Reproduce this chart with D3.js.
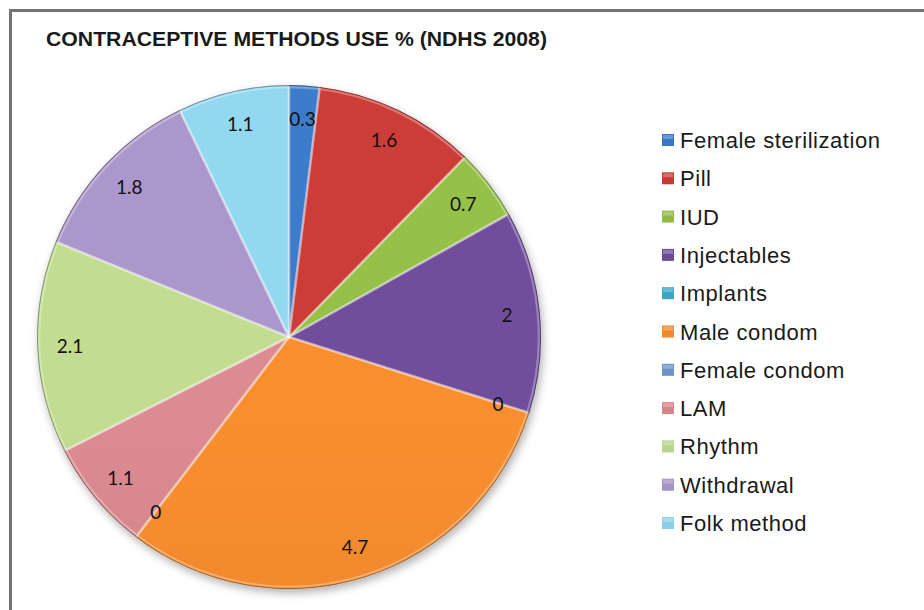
<!DOCTYPE html>
<html>
<head>
<meta charset="utf-8">
<script src="https://cdn.jsdelivr.net/npm/d3@7/dist/d3.min.js"></script>
<style>
  html, body { margin: 0; padding: 0; background: #fff; }
  svg { display: block; }
</style>
</head>
<body>
<svg id="chart" width="924" height="610"></svg>
<script>
const title = "CONTRACEPTIVE METHODS USE % (NDHS 2008)";
const categories = ["Female sterilization", "Pill", "IUD", "Injectables", "Implants",
  "Male condom", "Female condom", "LAM", "Rhythm", "Withdrawal", "Folk method"];
const values = [0.3, 1.6, 0.7, 2, 0, 4.7, 0, 1.1, 2.1, 1.8, 1.1];
const colors = ["#3a76c2", "#c43a36", "#90b946", "#6c4b96", "#3ba6c2",
  "#ef882c", "#6b93c8", "#d3858a", "#bad48c", "#a591c3", "#8ccfe5"];

const svg = d3.select("#chart");

// frame
svg.append("rect").attr("x", 10.5).attr("y", 10.5).attr("width", 1000).attr("height", 1000)
  .attr("fill", "none").attr("stroke", "#747474").attr("stroke-width", 3);

svg.append("text").attr("x", 46).attr("y", 46)
  .attr("font-family", "Liberation Sans Narrow, Liberation Sans, Arial, sans-serif")
  .attr("font-weight", "bold").attr("font-size", 21)
  .attr("textLength", 501).attr("lengthAdjust", "spacingAndGlyphs")
  .attr("fill", "#1a1a1a").text(title);

const cx = 289, cy = 337, r = 252;
const defs = svg.append("defs");
const f = defs.append("filter").attr("id", "shadow").attr("x", "-10%").attr("y", "-10%")
  .attr("width", "130%").attr("height", "130%");
f.append("feDropShadow").attr("dx", 2).attr("dy", 4).attr("stdDeviation", 4)
  .attr("flood-color", "#000").attr("flood-opacity", 0.3);

colors.forEach((c, i) => {
  const g = defs.append("linearGradient").attr("id", "g" + i)
    .attr("gradientUnits", "userSpaceOnUse")
    .attr("x1", 0).attr("y1", cy - r).attr("x2", 0).attr("y2", cy + r);
  g.append("stop").attr("offset", "0%").attr("stop-color", d3.color(c).brighter(0.12));
  g.append("stop").attr("offset", "100%").attr("stop-color", d3.color(c).darker(0.15));
});

const pie = d3.pie().sort(null).value(d => d)(values);
const arc = d3.arc().innerRadius(0).outerRadius(r);
const edge = d3.arc().innerRadius(0).outerRadius(r - 2);

const g = svg.append("g").attr("transform", `translate(${cx},${cy})`);
g.append("g").attr("filter", "url(#shadow)")
  .selectAll("path").data(pie).join("path")
  .attr("d", arc)
  .attr("fill", (d, i) => `url(#g${i})`);
// bevel highlight
g.append("g").selectAll("path").data(pie.filter(d => d.value > 0)).join("path")
  .attr("d", edge)
  .attr("fill", "none")
  .attr("stroke", "#ffffff").attr("stroke-opacity", 0.3).attr("stroke-width", 2.5)
  .attr("stroke-linejoin", "round");
// dark outer rim
g.append("g").selectAll("path").data(pie.filter(d => d.value > 0)).join("path")
  .attr("d", d3.arc().innerRadius(r - 1.2).outerRadius(r))
  .attr("fill", "#000").attr("fill-opacity", 0.3);

const labelArc = d3.arc().innerRadius(r * 0.87).outerRadius(r * 0.87);
g.append("g").selectAll("text").data(pie).join("text")
  .attr("x", d => labelArc.centroid(d)[0])
  .attr("y", d => labelArc.centroid(d)[1])
  .attr("text-anchor", "middle").attr("dominant-baseline", "central")
  .attr("font-family", "Lato, sans-serif").attr("font-size", 19)
  .attr("fill", "#111")
  .text(d => d.data);

// legend
const lg = svg.append("g");
const rows = lg.selectAll("g").data(categories).join("g")
  .attr("transform", (d, i) => `translate(662, ${140 + i * 38.3})`);
rows.append("rect").attr("x", 0).attr("y", -6).attr("width", 12).attr("height", 12)
  .attr("fill", (d, i) => colors[i]);
rows.append("rect").attr("x", 1).attr("y", -5).attr("width", 10).attr("height", 4)
  .attr("fill", "#fff").attr("fill-opacity", 0.25);
rows.append("text").attr("x", 18).attr("y", 8)
  .attr("font-family", "Liberation Sans, Arial, sans-serif").attr("font-size", 22)
  .attr("letter-spacing", 0.55)
  .attr("fill", "#1a1a1a").text(d => d);
</script>
</body>
</html>
